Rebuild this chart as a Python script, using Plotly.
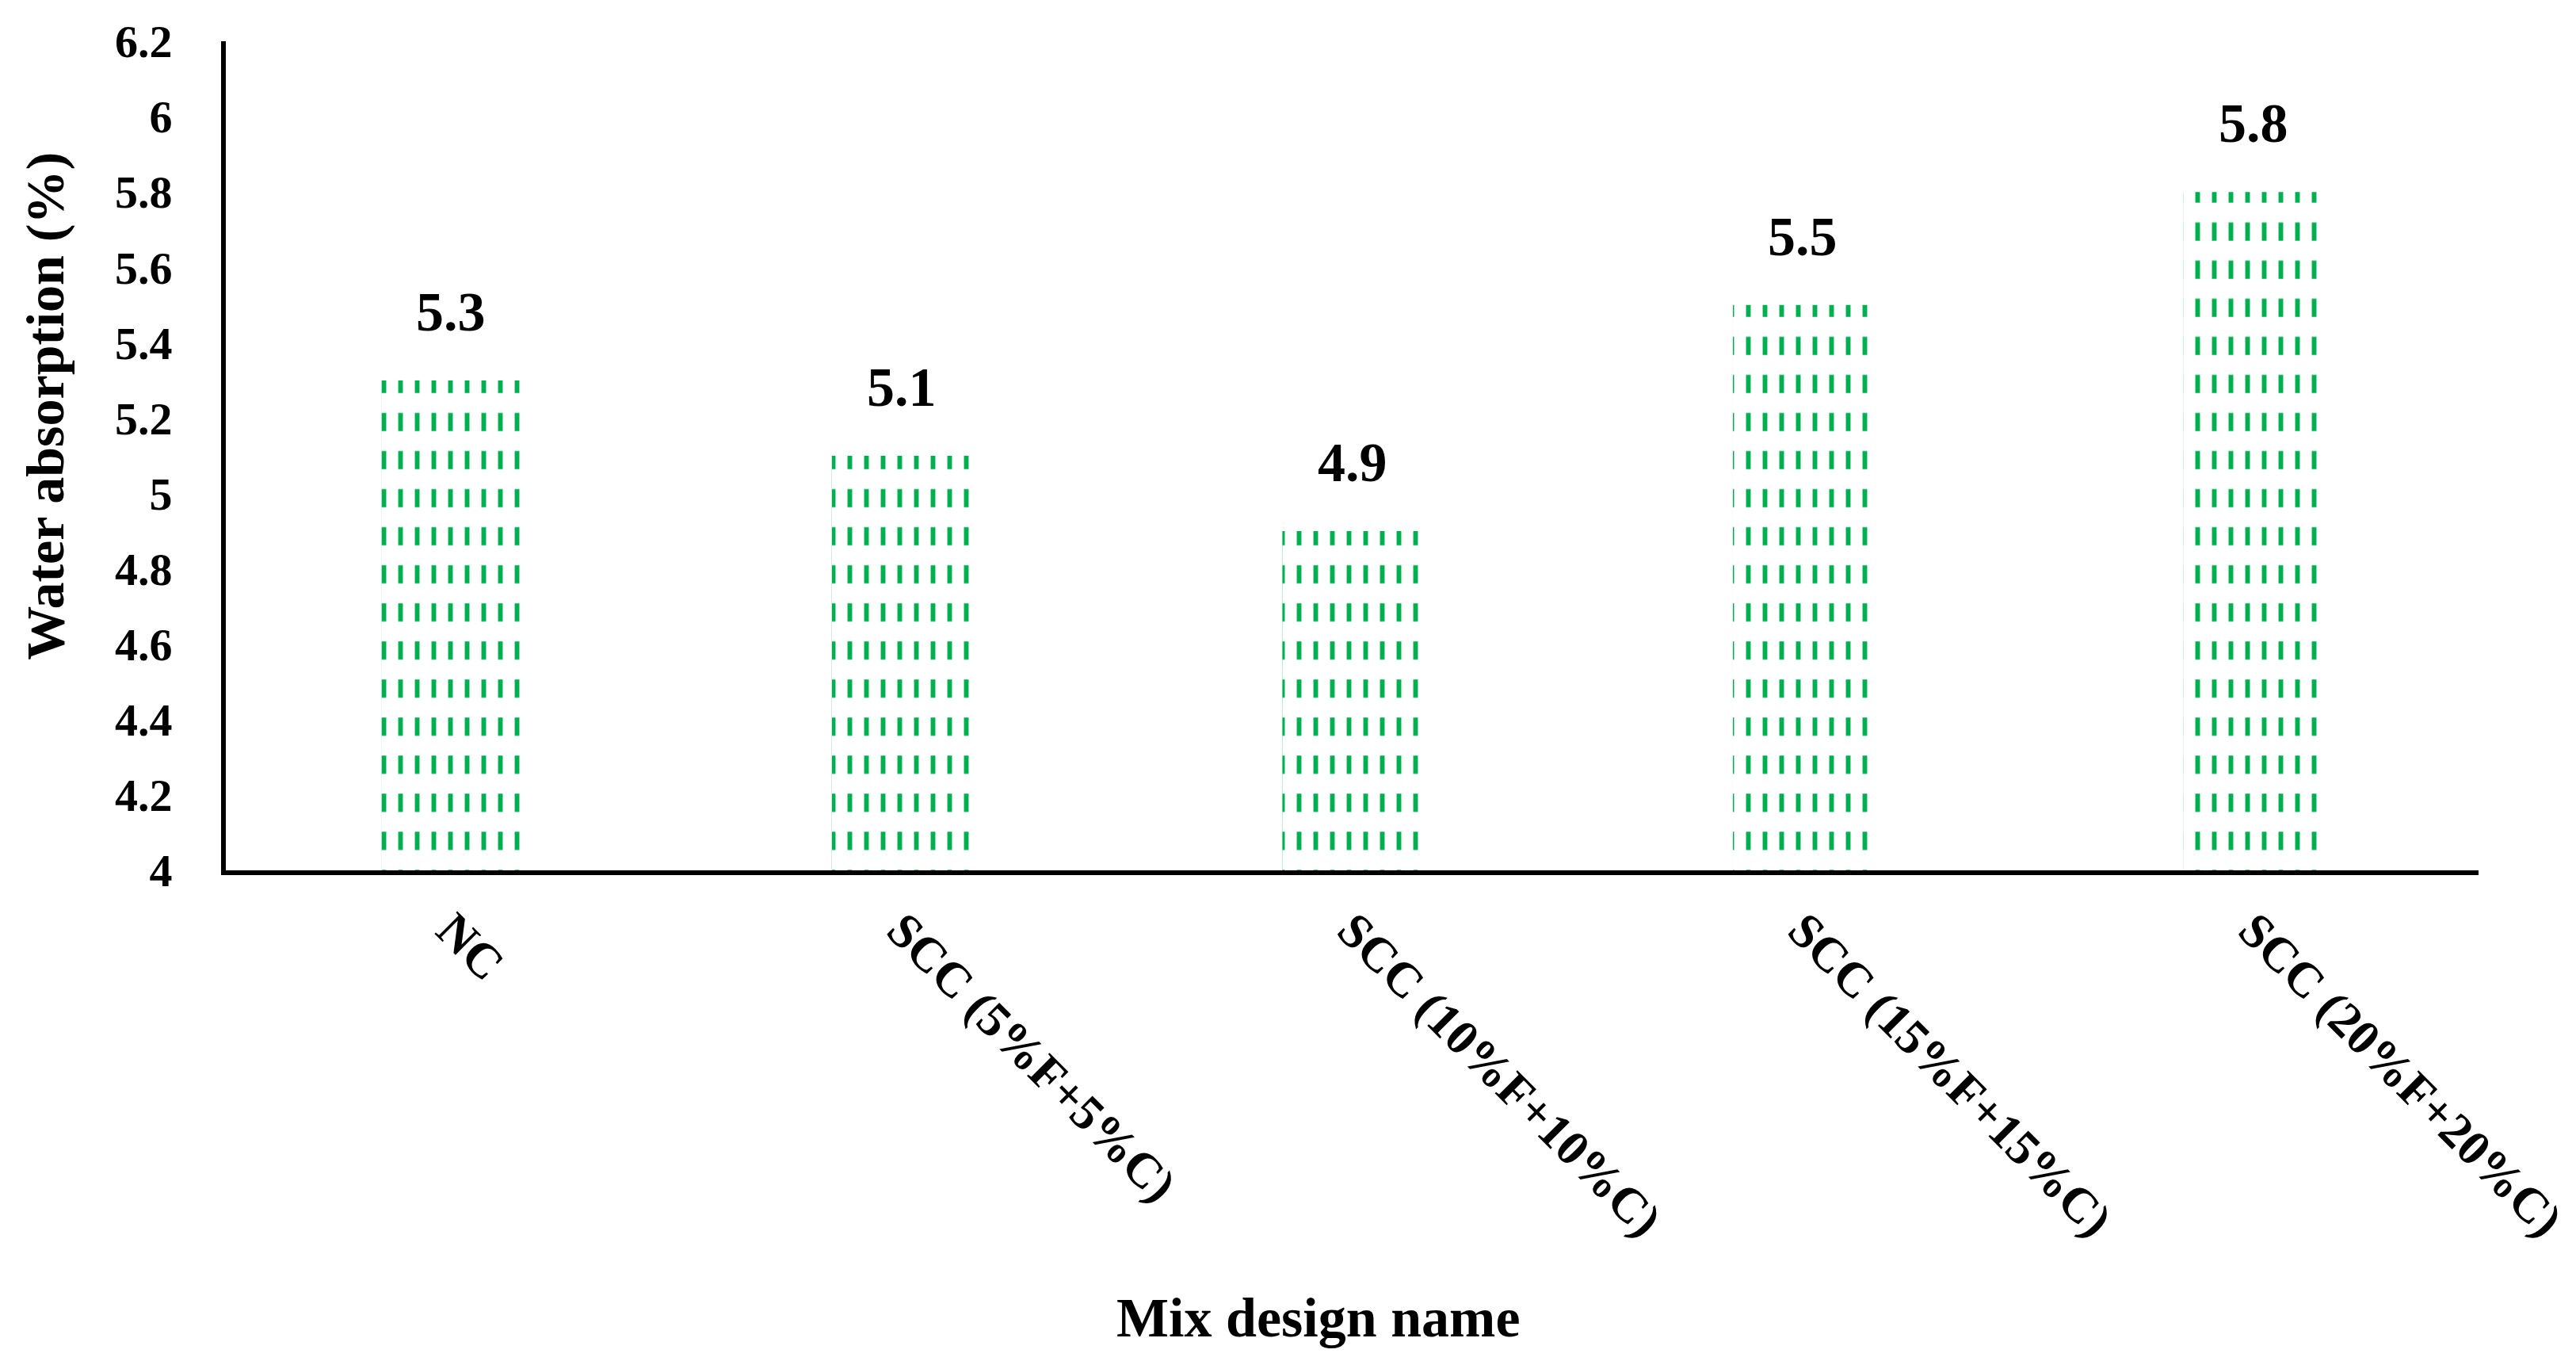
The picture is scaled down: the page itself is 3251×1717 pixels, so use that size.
import plotly.graph_objects as go

categories = ["NC", "SCC (5%F+5%C)", "SCC (10%F+10%C)", "SCC (15%F+15%C)", "SCC (20%F+20%C)"]
values = [5.3, 5.1, 4.9, 5.5, 5.8]
value_labels = ["5.3", "5.1", "4.9", "5.5", "5.8"]
y_ticks = [4.0, 4.2, 4.4, 4.6, 4.8, 5.0, 5.2, 5.4, 5.6, 5.8, 6.0, 6.2]
y_tick_text = ["4", "4.2", "4.4", "4.6", "4.8", "5", "5.2", "5.4", "5.6", "5.8", "6", "6.2"]

GREEN = "#00B050"
FONT = "Liberation Serif"

fig = go.Figure()
# vertical green lines
fig.add_trace(go.Bar(
    x=categories, y=values, base=0,
    marker=dict(color="white", line=dict(width=0),
                pattern=dict(shape="|", fgcolor=GREEN, bgcolor="white", size=21,
                             solidity=0.28, fillmode="replace")),
    hoverinfo="skip", showlegend=False,
))
# white horizontal gaps -> dashed look
fig.add_trace(go.Bar(
    x=categories, y=values, base=0,
    marker=dict(color="rgba(0,0,0,0)", line=dict(width=0),
                pattern=dict(shape="-", fgcolor="white", bgcolor="rgba(0,0,0,0)", size=48.04,
                             solidity=0.52, fillmode="replace")),
    hoverinfo="skip", showlegend=False,
))

for c, v, t in zip(categories, values, value_labels):
    fig.add_annotation(x=c, y=v, text="<b>%s</b>" % t, showarrow=False,
                       yanchor="bottom", yshift=46,
                       font=dict(family=FONT, size=70, color="black"))

fig.add_annotation(xref="paper", yref="paper", x=0.485, y=-0.54, text="<b>Mix design name</b>",
                   showarrow=False, xanchor="center", yanchor="middle",
                   font=dict(family=FONT, size=70, color="black"))
fig.add_annotation(xref="paper", yref="paper", x=-0.08, y=0.56, text="<b>Water absorption (%)</b>",
                   showarrow=False, textangle=-90, xanchor="center", yanchor="middle",
                   font=dict(family=FONT, size=68, color="black"))

fig.update_layout(
    width=3251, height=1717,
    margin=dict(l=277, r=126, t=33, b=627),
    paper_bgcolor="white", plot_bgcolor="white",
    barmode="overlay", bargap=0.69,
    font=dict(family=FONT, color="black"),
)
fig.update_xaxes(
    showline=True, linecolor="black", linewidth=6, showgrid=False, zeroline=False,
    tickangle=45, ticks="", ticklabelstandoff=8,
    tickfont=dict(family=FONT, size=62, color="black", weight="bold"),
)
fig.update_yaxes(
    range=[4, 6.2], showline=True, linecolor="black", linewidth=6, showgrid=False, zeroline=False,
    tickvals=y_ticks, ticktext=y_tick_text, ticks="", ticklabelstandoff=50,
    tickfont=dict(family=FONT, size=58, color="black", weight="bold"),
)

fig.write_html("out.html")
